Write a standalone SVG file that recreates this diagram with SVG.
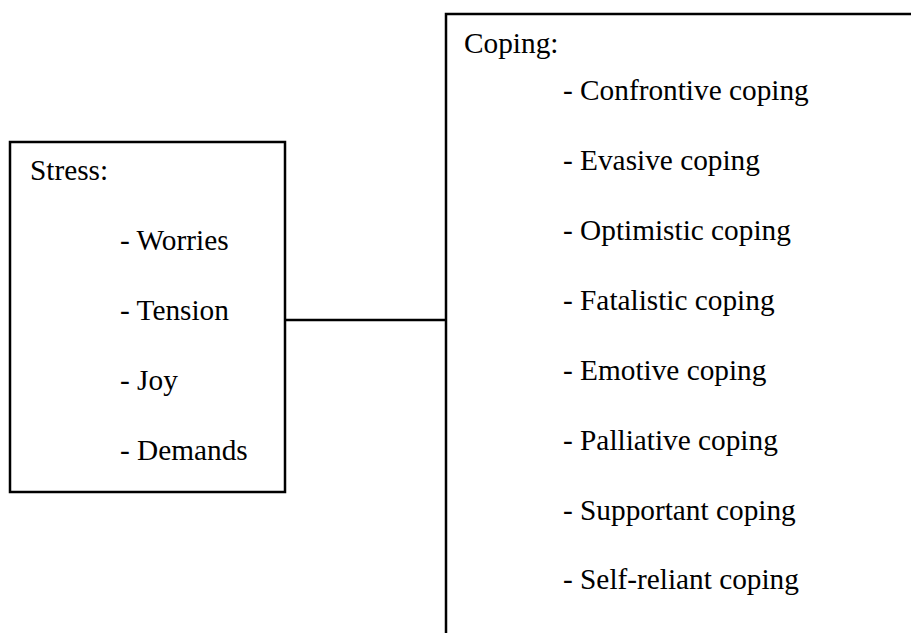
<svg xmlns="http://www.w3.org/2000/svg" width="911" height="633" viewBox="0 0 911 633">
<style>
.box{fill:#fff;stroke:#000;stroke-width:2.5}
.t{font-family:'Liberation Serif','DejaVu Serif',serif;font-size:29.3px;fill:#000}
.conn{stroke:#000;stroke-width:2.5;fill:none}
</style>
<rect width="911" height="633" fill="#fff"/>
<g id="connectors">
<line class="conn" x1="285" y1="320" x2="446" y2="320"/>
</g>
<g id="stress">
<rect class="box" x="10" y="142" width="275" height="350"/>
<text class="t" x="30" y="180" font-family="Liberation Serif">Stress:</text>
<text class="t" x="120" y="250" font-family="Liberation Serif">- Worries</text>
<text class="t" x="120" y="320" font-family="Liberation Serif">- Tension</text>
<text class="t" x="120" y="390" font-family="Liberation Serif">- Joy</text>
<text class="t" x="120" y="460" font-family="Liberation Serif">- Demands</text>
</g>
<g id="coping">
<rect class="box" x="446" y="14" width="480" height="640"/>
<text class="t" x="464" y="53" font-family="Liberation Serif">Coping:</text>
<text class="t" x="563" y="100" font-family="Liberation Serif">- Confrontive coping</text>
<text class="t" x="563" y="170" font-family="Liberation Serif">- Evasive coping</text>
<text class="t" x="563" y="240" font-family="Liberation Serif">- Optimistic coping</text>
<text class="t" x="563" y="310" font-family="Liberation Serif">- Fatalistic coping</text>
<text class="t" x="563" y="380" font-family="Liberation Serif">- Emotive coping</text>
<text class="t" x="563" y="450" font-family="Liberation Serif">- Palliative coping</text>
<text class="t" x="563" y="520" font-family="Liberation Serif">- Supportant coping</text>
<text class="t" x="563" y="589" font-family="Liberation Serif">- Self-reliant coping</text>
</g>
</svg>
